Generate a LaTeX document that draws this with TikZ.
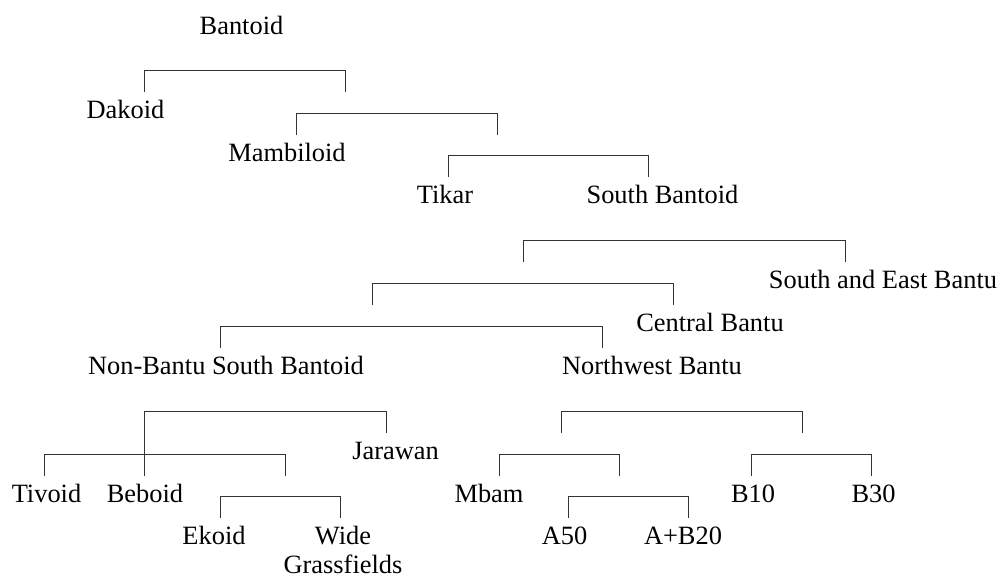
\documentclass[tikz,border=0pt]{standalone}
\usepackage{fontspec}
\setmainfont{Liberation Serif}
\begin{document}
\begin{tikzpicture}[x=1pt, y=-1pt, line width=0.9pt,
  lengua/.style={anchor=base, inner sep=0pt, font=\fontsize{26.4}{29}\selectfont},
  corchete/.style={draw=black!80, to path={|- ([yshift=21.5pt]\tikztotarget) -- (\tikztotarget)}}]
\useasboundingbox (0,0) rectangle (1002,578);
% Nodos
\node [lengua] (bantoid)  at (241.5,35) {Bantoid};
\node [lengua] (dakoid)   at (125.5,118) {Dakoid};
\node [lengua] (mambil)   at (287,161) {Mambiloid};
\node [lengua] (tikar)    at (445,203) {Tikar};
\node [lengua] (sbantoid) at (662.5,203) {South Bantoid};
\node [lengua] (seb)      at (883,288) {South and East Bantu};
\node [lengua] (central)  at (710,331) {Central Bantu};
\node [lengua] (nbsb)     at (226,374) {Non-Bantu South Bantoid};
\node [lengua] (nwb)      at (652,374) {Northwest Bantu};
\node [lengua] (jarawan)  at (395.5,459) {Jarawan};
\node [lengua] (tivoid)   at (46.5,502) {Tivoid};
\node [lengua] (beboid)   at (145,502) {Beboid};
\node [lengua] (ekoid)    at (214,544) {Ekoid};
% la base es la de la ultima linea
\node [lengua, align=center] (wide) at (343,573) {Wide\\Grassfields};
\node [lengua] (mbam)     at (489,502) {Mbam};
\node [lengua] (a50)      at (564.5,544) {A50};
\node [lengua] (ab20)     at (683,544) {A+B20};
\node [lengua] (b10)      at (753,502) {B10};
\node [lengua] (b30)      at (873.5,502) {B30};
% Corchetes
% ---
% Bantoid
% ---
\coordinate (c1a) at (144,92);  \coordinate (c1b) at (345,92);
\draw [corchete] (c1a) to (c1b);
\coordinate (c2a) at (296,135); \coordinate (c2b) at (497,135);
\draw [corchete] (c2a) to (c2b);
\coordinate (c3a) at (448,177); \coordinate (c3b) at (648,177);
\draw [corchete] (c3a) to (c3b);
% ---
% South Bantoid
% ---
\coordinate (c4a) at (523,262); \coordinate (c4b) at (845,262);
\draw [corchete] (c4a) to (c4b);
\coordinate (c5a) at (372,305); \coordinate (c5b) at (673,305);
\draw [corchete] (c5a) to (c5b);
\coordinate (c6a) at (220,348); \coordinate (c6b) at (602,348);
\draw [corchete] (c6a) to (c6b);
% ---
% Non-Bantu South Bantoid
% ---
\coordinate (c7a) at (144,476); \coordinate (c7b) at (386,433);
\draw [corchete] (c7a) to (c7b);
\coordinate (c8a) at (44,476);  \coordinate (c8b) at (285,476);
\draw [corchete] (c8a) to (c8b);
\coordinate (c9a) at (220,518); \coordinate (c9b) at (340,518);
\draw [corchete] (c9a) to (c9b);
% ---
% Northwest Bantu
% ---
\coordinate (c10a) at (561,433); \coordinate (c10b) at (802,433);
\draw [corchete] (c10a) to (c10b);
\coordinate (c11a) at (499,476); \coordinate (c11b) at (619,476);
\draw [corchete] (c11a) to (c11b);
\coordinate (c12a) at (568,518); \coordinate (c12b) at (688,518);
\draw [corchete] (c12a) to (c12b);
\coordinate (c13a) at (751,476); \coordinate (c13b) at (871,476);
\draw [corchete] (c13a) to (c13b);
\end{tikzpicture}
\end{document}
